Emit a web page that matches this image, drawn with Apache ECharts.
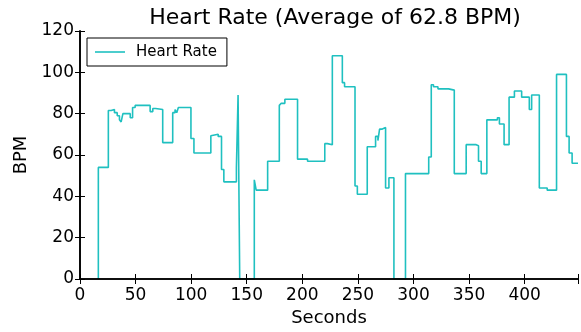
<!DOCTYPE html>
<html>
<head>
<meta charset="utf-8">
<script src="https://cdn.jsdelivr.net/npm/echarts@6/dist/echarts.min.js"></script>
<style>
  html, body { margin: 0; padding: 0; background: #fff; }
  #chart { width: 581px; height: 332px; }
</style>
</head>
<body>
<div id="chart"></div>
<script>
// 心率数据：秒数 + 对应的 BPM（阶梯线，值从该秒开始生效）
const seconds = [16.5, 16.5, 25.5, 28, 31, 33.5, 35.5, 37, 38.6, 45.2, 47.3, 49.6, 63.1, 65.5, 68,
  74.4, 83.4, 85.5, 87, 88.5, 99.8, 102.5, 117.7, 119.2, 124.3, 127.3, 129.4, 140.7, 142.2, 143.7,
  156.8, 158.5, 168.8, 179.3, 181, 184.3, 195.7, 204.7, 220.2, 222.6, 227, 236, 238, 247.4, 249.5,
  258.4, 265.9, 268, 269.5, 271.5, 274.9, 277.9, 282.4, 292.8, 313.7, 316, 318, 322, 331.6, 336.7,
  347.4, 356.4, 358.5, 360.9, 366, 375.5, 377.3, 381.5, 386, 390.8, 397.3, 404.2, 406.3, 413.2,
  420.3, 428.7, 437.6, 440, 442.7, 448]
const bpm = [0, 54, 81.5, 82, 80.5, 79, 77, 76, 80, 78, 83, 84, 81, 82.5, 82,
  66, 80.5, 82, 80.5, 83, 68, 61, 69.3, 70, 69, 53, 47, 54, 89, 0,
  48, 43, 57, 84, 85, 87, 58, 57, 65.5, 65, 108, 95, 93, 45, 41,
  64, 69, 67, 72.5, 73.3, 44, 49, 0, 51, 59, 94, 93, 92, 91.4, 51,
  65, 64.5, 57, 51, 77, 78, 75, 65, 88, 91, 88, 82, 89, 44,
  43, 99, 69, 61, 56, 56]
const xTicks = [0, 50, 100, 150, 200, 250, 300, 350, 400]
const yTicks = [0, 20, 40, 60, 80, 100, 120]

const font = 'DejaVu Sans'
const chart = echarts.init(document.getElementById('chart'), null, { renderer: 'canvas' })

// 坐标轴放在折线之上，这样 0 值的水平段会被黑色边框盖住
const baseAxis = {
  z: 5,
  axisLine: { show: true, lineStyle: { color: '#000', width: 1.6 } },
  axisTick: { show: true, inside: true, length: 5, lineStyle: { color: '#000' } },
  splitLine: { show: false }
}

const option = {
  animation: false,
  title: {
    text: 'Heart Rate (Average of 62.8 BPM)',
    left: 330,
    textAlign: 'center',
    top: 2,
    textStyle: { fontFamily: font, fontSize: 22, fontWeight: 'normal', color: '#000' }
  },
  legend: {
    left: 87,
    top: 38,
    orient: 'vertical',
    padding: [6, 8, 6, 8],
    icon: 'rect',
    itemWidth: 30,
    itemHeight: 1.6,
    itemGap: 6,
    borderColor: '#000',
    borderWidth: 1,
    borderRadius: 0,
    textStyle: { fontFamily: font, fontSize: 15, color: '#000', padding: [0, 2, 0, 6], lineHeight: 16 },
    data: ['Heart Rate']
  },
  grid: { left: 80, right: 1.5, top: 31, bottom: 51, containLabel: false },
  xAxis: [
    Object.assign({}, baseAxis, {
      type: 'value', min: 0, max: 448, interval: 50, position: 'bottom',
      name: 'Seconds', nameLocation: 'middle', nameGap: 30,
      nameTextStyle: { fontFamily: font, fontSize: 18, color: '#000' },
      axisLabel: {
        fontFamily: font, fontSize: 17, color: '#000', margin: 8,
        formatter: v => (xTicks.indexOf(v) >= 0 ? String(v) : '')
      }
    }),
    Object.assign({}, baseAxis, {
      type: 'value', min: 0, max: 448, interval: 50, position: 'top',
      axisLabel: { show: false }
    })
  ],
  yAxis: [
    Object.assign({}, baseAxis, {
      type: 'value', min: 0, max: 120, interval: 20, position: 'left',
      name: 'BPM', nameLocation: 'middle', nameGap: 47,
      nameTextStyle: { fontFamily: font, fontSize: 18, color: '#000' },
      axisLabel: {
        fontFamily: font, fontSize: 17, color: '#000', margin: 6,
        formatter: v => (yTicks.indexOf(v) >= 0 ? String(v) : '')
      }
    }),
    Object.assign({}, baseAxis, {
      type: 'value', min: 0, max: 120, interval: 20, position: 'right',
      axisLabel: { show: false }
    })
  ],
  series: [
    {
      name: 'Heart Rate',
      type: 'line',
      step: 'end',
      symbol: 'none',
      z: 2,
      color: '#1fc0c0',
      lineStyle: { width: 1.6, color: '#1fc0c0' },
      data: seconds.map((s, i) => [s, bpm[i]])
    }
  ]
}

chart.setOption(option)
</script>
</body>
</html>
